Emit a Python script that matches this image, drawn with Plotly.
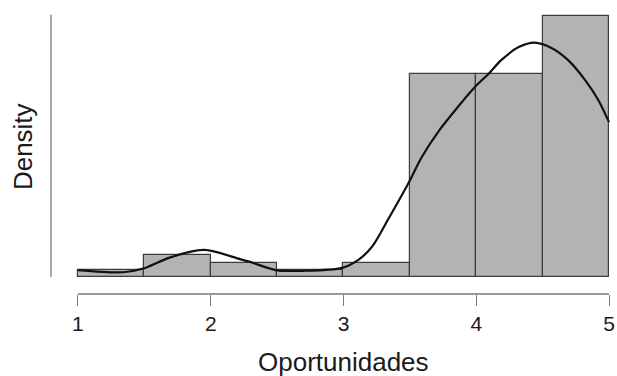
import plotly.graph_objects as go

# Histogram data
bin_edges = [1.0, 1.5, 2.0, 2.5, 3.0, 3.5, 4.0, 4.5, 5.0]
counts = [1, 3, 2, 1, 2, 28, 28, 36]

# Density curve points
curve_x = [1.00, 1.34, 1.50, 1.69, 1.95, 2.22, 2.29, 2.49, 2.70, 2.99, 3.12, 3.22,
           3.34, 3.49, 3.59, 3.72, 3.84, 3.99, 4.09, 4.19, 4.32, 4.44, 4.57, 4.69,
           4.82, 4.92, 5.00]
curve_y = [0.019, 0.013, 0.024, 0.053, 0.074, 0.049, 0.042, 0.019, 0.017, 0.025, 0.049, 0.085,
           0.160, 0.257, 0.328, 0.400, 0.455, 0.519, 0.554, 0.593, 0.628, 0.640, 0.625, 0.593,
           0.538, 0.483, 0.423]

x_ticks = [1, 2, 3, 4, 5]
x_title = "Oportunidades"
y_title = "Density"

n = sum(counts)
widths = [bin_edges[i + 1] - bin_edges[i] for i in range(len(counts))]
mids = [(bin_edges[i] + bin_edges[i + 1]) / 2 for i in range(len(counts))]
dens = [c / (n * w) for c, w in zip(counts, widths)]

FONT = "Liberation Sans, Arial, Helvetica, sans-serif"
TXT = "#1a1a1a"
AX = "#7a7a7a"

fig = go.Figure()
fig.add_trace(go.Bar(
    x=mids, y=dens, width=widths,
    marker=dict(color="#b3b3b3", line=dict(color="#3c3c3c", width=1.2)),
    hoverinfo="skip",
))
fig.add_trace(go.Scatter(
    x=curve_x, y=curve_y, mode="lines",
    line=dict(color="#111111", width=2.2, shape="spline", smoothing=0.8),
    hoverinfo="skip",
))

ymax = max(dens)
fig.update_layout(
    width=617, height=376,
    margin=dict(l=51, r=2, t=5, b=82),
    plot_bgcolor="white", paper_bgcolor="white",
    showlegend=False,
    bargap=0,
    font=dict(family=FONT, color=TXT),
    xaxis=dict(
        range=[0.797, 5.03], tickvals=x_ticks, ticktext=[str(t) for t in x_ticks],
        ticks="outside", ticklen=11, tickcolor=AX, tickwidth=1.3,
        showline=False, showgrid=False, zeroline=False,
        tickfont=dict(size=21, color=TXT, family=FONT),
    ),
    yaxis=dict(
        range=[-0.0464, 0.743], showticklabels=False, ticks="",
        showline=False, showgrid=False, zeroline=False,
    ),
    shapes=[
        dict(type="line", xref="x", yref="paper", x0=x_ticks[0], x1=x_ticks[-1], y0=0, y1=0,
             line=dict(color=AX, width=1.3)),
        dict(type="line", xref="paper", yref="y", x0=0, x1=0, y0=0, y1=ymax * 1.005,
             line=dict(color=AX, width=1.3)),
    ],
    annotations=[
        dict(text=x_title, xref="x", yref="paper", x=3, y=0, yanchor="top", xanchor="center",
             yshift=-51, showarrow=False, font=dict(size=26, color=TXT, family=FONT)),
        dict(text=y_title, xref="paper", yref="paper", x=0, y=0.51, xanchor="center",
             yanchor="middle", xshift=-28.5, textangle=-90, showarrow=False,
             font=dict(size=26, color=TXT, family=FONT)),
    ],
)

fig.write_html("out.html", config={"displayModeBar": False},
               post_script="document.body.style.margin='0';")
